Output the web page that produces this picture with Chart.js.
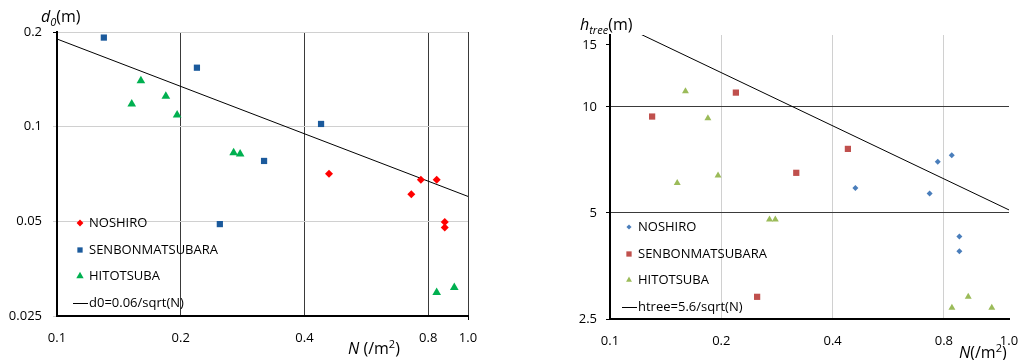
<!DOCTYPE html>
<html>
<head>
<meta charset="utf-8">
<script src="https://cdn.jsdelivr.net/npm/chart.js@4/dist/chart.umd.min.js"></script>
<style>
  body { margin: 0; background: #fff; width: 1030px; height: 360px; position: relative; overflow: hidden; font-family: "Open Sans", sans-serif; color: #000; }
  .panel { position: absolute; top: 0; width: 515px; height: 360px; }
  .title { position: absolute; font-size: 16px; line-height: 16px; white-space: nowrap; }
  .title sub { font-size: 11px; }
  .title sup { font-size: 11px; }
</style>
</head>
<body>
<div class="panel" style="left:0"><canvas id="leftChart"></canvas></div>
<div class="panel" style="left:515px"><canvas id="rightChart"></canvas></div>
<div class="title" style="left:41px;top:8px"><i>d<sub>0</sub></i>(m)</div>
<div class="title" style="left:580px;top:16px"><i>h<sub>tree</sub></i>(m)</div>
<div class="title" style="left:348px;top:336px"><i>N</i> (/m<sup>2</sup>)</div>
<div class="title" style="left:959px;top:340px"><i>N</i>(/m<sup>2</sup>)</div>
<script>
// left panel: d0 vs N
const nNoshiroL = [0.459, 0.768, 0.839, 0.728, 0.878, 0.878];
const dNoshiro = [0.0709, 0.0678, 0.0678, 0.061, 0.0498, 0.0478];
const nSenbonL = [0.130, 0.219, 0.439, 0.319, 0.249];
const dSenbon = [0.192, 0.154, 0.102, 0.0778, 0.049];
const nHitoL = [0.152, 0.160, 0.184, 0.196, 0.269, 0.279, 0.839, 0.926];
const dHito = [0.118, 0.140, 0.125, 0.109, 0.0826, 0.0818, 0.0297, 0.0308];
const nFitL = [0.1, 1.0];
const dFit = [0.19, 0.06];

// right panel: htree vs N
const nNoshiroR = [0.461, 0.732, 0.770, 0.840, 0.881, 0.881];
const hNoshiro = [5.89, 5.68, 6.99, 7.29, 4.29, 3.89];
const nSenbonR = [0.130, 0.219, 0.440, 0.319, 0.250];
const hSenbon = [9.39, 10.98, 7.60, 6.50, 2.89];
const nHitoR = [0.152, 0.160, 0.184, 0.196, 0.270, 0.280, 0.841, 0.931, 1.078];
const hHito = [6.08, 11.07, 9.28, 6.39, 4.79, 4.79, 2.69, 2.89, 2.69];
const nFitR = [0.1, 1.2];
const hFit = [17.7, 5.1];

const leftXTicks = [0.1, 0.2, 0.4, 0.8, 1.0];
const leftXLabels = ["0.1", "0.2", "0.4", "0.8", "1.0"];
const leftYTicks = [0.025, 0.05, 0.1, 0.2];
const leftYLabels = ["0.025", "0.05", "0.1", "0.2"];
const rightXTicks = [0.1, 0.2, 0.4, 0.8, 1.2];
const rightXLabels = ["0.1", "0.2", "0.4", "0.8", "1.0"];
const rightYTicks = [2.5, 5, 10, 15];
const rightYLabels = ["2.5", "5", "10", "15"];

const seriesNames = ["NOSHIRO", "SENBONMATSUBARA", "HITOTSUBA"];

Chart.defaults.font.family = '"Open Sans", sans-serif';
Chart.defaults.font.size = 13;
Chart.defaults.color = "#000";

const pts = (xs, ys) => xs.map((x, i) => ({ x, y: ys[i] }));
const clear = "rgba(0,0,0,0)";

const insideLegend = {
  id: "insideLegend",
  afterDatasetsDraw(chart, args, opts) {
    const ctx = chart.ctx;
    ctx.save();
    ctx.font = '13px "Open Sans"';
    ctx.textBaseline = "middle";
    chart.data.datasets.forEach((ds, i) => {
      const y = opts.rows[i];
      if (ds.showLine) {
        ctx.strokeStyle = ds.borderColor;
        ctx.lineWidth = 1;
        ctx.beginPath();
        ctx.moveTo(opts.lineFrom, y + 0.5);
        ctx.lineTo(opts.lineTo, y + 0.5);
        ctx.stroke();
      } else {
        ctx.fillStyle = ds.backgroundColor;
        Chart.helpers.drawPoint(ctx, {
          pointStyle: ds.pointStyle,
          radius: ds.pointRadius * 0.85,
          rotation: 0,
          borderWidth: 0
        }, opts.markerX, y);
      }
      ctx.fillStyle = "#000";
      ctx.fillText(ds.label, opts.textX, y);
    });
    ctx.restore();
  }
};

function logAxis(min, max, ticks, labels, size, gridColor, tickColor, horizontal, padding) {
  return {
    type: "logarithmic",
    min,
    max,
    afterBuildTicks: (axis) => { axis.ticks = ticks.map((v) => ({ value: v })); },
    afterFit: (axis) => { if (horizontal) axis.height = size; else axis.width = size; },
    ticks: {
      autoSkip: false,
      maxRotation: 0,
      padding,
      callback: (value, index) => labels[index]
    },
    grid: { color: gridColor, tickColor, tickLength: 4, lineWidth: 1 },
    border: { color: "#000", width: 2 }
  };
}

new Chart(document.querySelector("#leftChart"), {
  type: "scatter",
  data: {
    datasets: [
      { label: seriesNames[0], data: pts(nNoshiroL, dNoshiro), pointStyle: "rectRot", pointRadius: 4, backgroundColor: "#ff0000", borderWidth: 0 },
      { label: seriesNames[1], data: pts(nSenbonL, dSenbon), pointStyle: "rect", pointRadius: 4.4, backgroundColor: "#1b5a9c", borderWidth: 0 },
      { label: seriesNames[2], data: pts(nHitoL, dHito), pointStyle: "triangle", pointRadius: 5, backgroundColor: "#00b050", borderWidth: 0 },
      { label: "d0=0.06/sqrt(N)", data: pts(nFitL, dFit), showLine: true, pointRadius: 0, borderColor: "#000", borderWidth: 1, backgroundColor: "#000" }
    ]
  },
  options: {
    animation: false,
    responsive: true,
    maintainAspectRatio: false,
    layout: { padding: { top: 32, right: 47, bottom: 0, left: 0 } },
    plugins: {
      legend: { display: false },
      tooltip: { enabled: false },
      insideLegend: { rows: [223, 250, 276, 303], markerX: 80, textX: 89, lineFrom: 73, lineTo: 88 }
    },
    scales: {
      x: logAxis(0.1, 1.0, leftXTicks, leftXLabels, 44,
        (c) => (c.tick && c.tick.value > 0.1 ? "#3a3a3a" : clear),
        (c) => (c.tick && (c.tick.value === 1.0) ? "#000" : clear), true, 10),
      y: logAxis(0.025, 0.2, leftYTicks, leftYLabels, 57,
        (c) => (c.tick && c.tick.value > 0.025 ? "#d0d0d0" : clear),
        (c) => (c.tick && c.tick.value === 0.2 ? "#000" : "#d0d0d0"), false, 11)
    }
  },
  plugins: [insideLegend]
});

new Chart(document.querySelector("#rightChart"), {
  type: "scatter",
  data: {
    datasets: [
      { label: seriesNames[0], data: pts(nNoshiroR, hNoshiro), pointStyle: "rectRot", pointRadius: 3, backgroundColor: "#4a7ebb", borderWidth: 0 },
      { label: seriesNames[1], data: pts(nSenbonR, hSenbon), pointStyle: "rect", pointRadius: 4.4, backgroundColor: "#c0504d", borderWidth: 0 },
      { label: seriesNames[2], data: pts(nHitoR, hHito), pointStyle: "triangle", pointRadius: 4, backgroundColor: "#9bbb59", borderWidth: 0 },
      { label: "htree=5.6/sqrt(N)", data: pts(nFitR, hFit), showLine: true, pointRadius: 0, borderColor: "#000", borderWidth: 1, backgroundColor: "#000" }
    ]
  },
  options: {
    animation: false,
    responsive: true,
    maintainAspectRatio: false,
    layout: { padding: { top: 35, right: 21, bottom: 0, left: 0 } },
    plugins: {
      legend: { display: false },
      tooltip: { enabled: false },
      insideLegend: { rows: [227, 254, 280, 307], markerX: 114, textX: 123, lineFrom: 107, lineTo: 122 }
    },
    scales: {
      x: logAxis(0.1, 1.2, rightXTicks, rightXLabels, 41,
        (c) => (c.tick && c.tick.value > 0.1 && c.tick.value < 1.2 ? "#d0d0d0" : clear),
        () => clear, true, 10),
      y: logAxis(2.5, 16, rightYTicks, rightYLabels, 95,
        (c) => (c.tick && (c.tick.value === 5 || c.tick.value === 10) ? "#3a3a3a" : clear),
        () => "#000", false, 9)
    }
  },
  plugins: [insideLegend]
});
</script>
</body>
</html>
